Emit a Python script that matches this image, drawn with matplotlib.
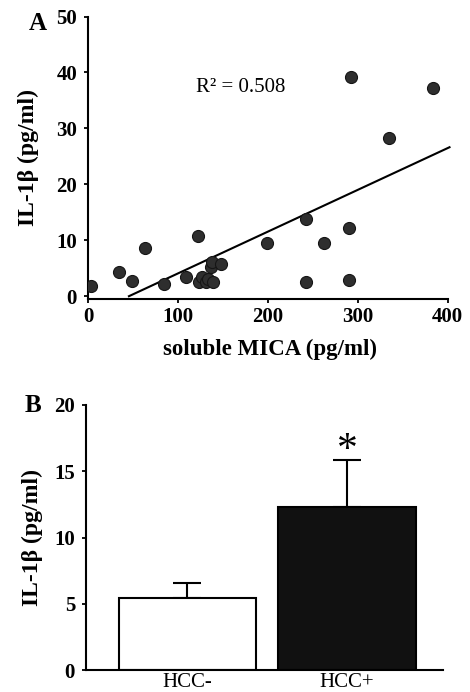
import numpy as np
import matplotlib
matplotlib.use("Agg")
import matplotlib.pyplot as plt

plt.rcParams['font.family'] = ['Liberation Serif', 'DejaVu Serif']
plt.rcParams['font.weight'] = 'bold'

# Panel A: soluble MICA vs IL-1beta
mica = [3, 34.5, 48.5, 63, 84.5, 108.5, 122, 123, 127, 131, 134, 139, 137, 138, 148,
        198.5, 242.5, 242.5, 262, 290, 290, 292.5, 334.5, 383.8]
il1b = [1.9, 4.3, 2.7, 8.7, 2.2, 3.4, 10.8, 2.5, 3.4, 2.5, 3.1, 2.5, 5.2, 6.1, 5.8,
        9.6, 13.8, 2.6, 9.5, 12.2, 2.9, 39.1, 28.2, 37.3]
fit_slope = 0.0747
fit_intercept = -3.4
r2_text = "R\u00b2 = 0.508"

# Panel B: group means
groups = ["HCC-", "HCC+"]
means = [5.4, 12.27]
errs = [1.16, 3.6]
bar_colors = ["white", "#111111"]

fig = plt.figure(figsize=(4.7, 6.92), dpi=100)

# ---- A ----
axA = fig.add_axes([88 / 470, 1 - 299 / 692, 359.7 / 470, 282.5 / 692])
axA.scatter(mica, il1b, s=75, c='#2e2e2e', edgecolors='#151515', linewidths=0.8, zorder=3)
x0 = -fit_intercept / fit_slope
xs = np.array([x0, 402])
axA.plot(xs, fit_slope * xs + fit_intercept, color='black', lw=1.5, clip_on=False)
axA.text(170, 37.3, r2_text, fontsize=15, fontweight='normal', ha='center', va='center')
axA.set_xlim(0, 400)
axA.set_ylim(-0.5, 50)
axA.set_xticks([0, 100, 200, 300, 400])
axA.set_yticks([0, 10, 20, 30, 40, 50])
axA.set_xlabel("soluble MICA (pg/ml)", fontsize=16.5, fontweight='bold', va='baseline')
axA.xaxis.set_label_coords(0.505, -0.198)
axA.set_ylabel("IL-1\u03b2 (pg/ml)", fontsize=17, fontweight='bold', va='center')
axA.yaxis.set_label_coords(-0.167, 0.5)
axA.text(-0.14, 0.975, "A", transform=axA.transAxes, fontsize=18, fontweight='bold',
         ha='center', va='center')

# ---- B ----
axB = fig.add_axes([86 / 470, 1 - 670 / 692, 357.3 / 470, 265 / 692])
pos = np.arange(len(groups))
axB.bar(pos, means, width=0.86, color=bar_colors, edgecolor='black', linewidth=1.5, zorder=2)
axB.errorbar(pos, means, yerr=[[0, 0], errs], fmt='none', ecolor='black',
             elinewidth=1.5, capsize=10, capthick=1.5, zorder=1)
axB.text(pos[1], means[1] + errs[1] + 0.67, "*", fontsize=30, fontweight='normal',
         ha='center', va='center')
axB.set_xlim(-0.636, 1.604)
axB.set_ylim(0, 20)
axB.set_yticks([0, 5, 10, 15, 20])
axB.set_xticks(pos)
axB.set_xticklabels(groups)
axB.set_ylabel("IL-1\u03b2 (pg/ml)", fontsize=17, fontweight='bold', va='center')
axB.yaxis.set_label_coords(-0.151, 0.5)
axB.text(-0.148, 1.0, "B", transform=axB.transAxes, fontsize=18, fontweight='bold',
         ha='center', va='center')

for ax in (axA, axB):
    ax.spines['top'].set_visible(False)
    ax.spines['right'].set_visible(False)
    ax.spines['left'].set_linewidth(1.5)
    ax.spines['bottom'].set_linewidth(1.5)
    ax.tick_params(labelsize=15, width=1.3, length=3, direction='out')
    ax.tick_params(axis='y', pad=4.9)
    ax.tick_params(axis='x', pad=2.9)
    for lab in ax.get_xticklabels() + ax.get_yticklabels():
        lab.set_fontweight('bold')

axB.tick_params(axis='x', length=0, pad=2, labelsize=15)
for lab in axB.get_xticklabels():
    lab.set_fontweight('normal')

fig.savefig("out.png", dpi=100)
